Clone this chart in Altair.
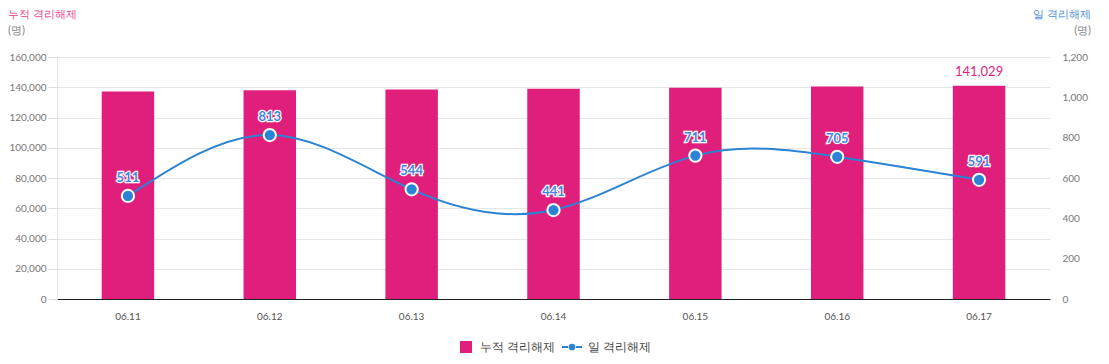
import altair as alt
import pandas as pd

dates = ["06.11", "06.12", "06.13", "06.14", "06.15", "06.16", "06.17"]
cumulative = [137224, 138037, 138581, 139022, 139733, 140438, 141029]
daily = [511, 813, 544, 441, 711, 705, 591]
bar_labels = ["", "", "", "", "", "", "141,029"]
left_ticks = [0, 20000, 40000, 60000, 80000, 100000, 120000, 140000, 160000]
right_ticks = [0, 200, 400, 600, 800, 1000, 1200]

PINK = "#E01F7C"
BLUE = "#2A83D3"
LABEL_BLUE = "#4683DC"
FONT = "Lato"

df = pd.DataFrame({"date": dates, "cum": cumulative, "daily": daily, "blab": bar_labels})

xenc = alt.X("date:N", sort=dates,
             scale=alt.Scale(paddingInner=0.63, paddingOuter=0.315),
             axis=alt.Axis(title=None, labelAngle=0, ticks=False, domainColor="#222",
                           domainWidth=1.2, labelColor="#555", labelFont=FONT,
                           labelFontSize=10, labelPadding=12, grid=False))

yleft = alt.Y("cum:Q", scale=alt.Scale(domain=[0, 160000], nice=False),
              axis=alt.Axis(title=None, values=left_ticks, tickCount=20, format=",.0f",
                            labelColor="#777", labelFont=FONT, labelFontSize=10,
                            tickColor="#ddd", tickSize=9, labelPadding=2, labelOverlap=False,
                            domainColor="#e4e4e4", gridColor="#e6e6e6"))

bars = alt.Chart(df).mark_bar(color=PINK).encode(x=xenc, y=yleft)
bar_text = alt.Chart(df).mark_text(color=PINK, font=FONT, fontSize=13, baseline="bottom",
                                   dy=-7).encode(x=xenc, y=yleft, text="blab:N")

yright = alt.Y("daily:Q", scale=alt.Scale(domain=[0, 1200], nice=False),
               axis=alt.Axis(title=None, orient="right", values=right_ticks, tickCount=20,
                             format=",.0f", labelColor="#777", labelFont=FONT, labelFontSize=10,
                             ticks=False, domain=False, grid=False, labelPadding=12,
                             labelOverlap=False))

line = alt.Chart(df).mark_line(color=BLUE, strokeWidth=2, interpolate="natural").encode(
    x=xenc, y=yright)
pts = alt.Chart(df).mark_point(filled=True, fill=BLUE, stroke="white", strokeWidth=2,
                               size=150, opacity=1).encode(x=xenc, y=yright)
halo = alt.Chart(df).mark_text(font=FONT, fontSize=13, fontWeight="bold", baseline="bottom",
                               dy=-11, stroke="white", strokeWidth=2.5, fill="white").encode(
    x=xenc, y=yright, text="daily:Q")
ptxt = alt.Chart(df).mark_text(font=FONT, fontSize=13, fontWeight="bold", baseline="bottom",
                               dy=-11, color=LABEL_BLUE).encode(
    x=xenc, y=yright, text="daily:Q")

left_layer = alt.layer(bars, bar_text)
right_layer = alt.layer(line, pts, halo, ptxt)

def txt(s, x, y, color, align="left", size=11):
    return alt.Chart(pd.DataFrame({"t": [s]})).mark_text(
        font=FONT, fontSize=size, color=color, align=align, baseline="middle"
    ).encode(x=alt.value(x), y=alt.value(y), text="t:N")

titles = [
    txt("누적 격리해제", -49, -42, "#E8458F"),
    txt("(명)", -49, -26, "#888"),
    txt("일 격리해제", 1034, -42, "#4A8FD8", align="right"),
    txt("(명)", 1034, -26, "#888", align="right"),
]

leg_df = pd.DataFrame({"a": [0]})
legend = [
    alt.Chart(leg_df).mark_square(color=PINK, size=144, opacity=1).encode(
        x=alt.value(409), y=alt.value(290)),
    txt("누적 격리해제", 423, 290, "#444", size=12),
    alt.Chart(leg_df).mark_rule(color=BLUE, strokeWidth=2).encode(
        x=alt.value(505), x2=alt.value(511), y=alt.value(290)),
    alt.Chart(leg_df).mark_rule(color=BLUE, strokeWidth=2).encode(
        x=alt.value(519), x2=alt.value(525), y=alt.value(290)),
    alt.Chart(leg_df).mark_circle(color=BLUE, size=45, opacity=1).encode(
        x=alt.value(515), y=alt.value(290)),
    txt("일 격리해제", 531, 290, "#444", size=12),
]

chart = alt.layer(left_layer, right_layer, *titles, *legend).resolve_scale(
    y="independent"
).properties(
    width=993, height=242,
    padding={"left": 49, "top": 49, "right": 51, "bottom": 57},
    autosize=alt.AutoSizeParams(type="none"),
).configure_view(stroke=None)

chart.save("out.html", embed_options={"renderer": "svg", "actions": False})
